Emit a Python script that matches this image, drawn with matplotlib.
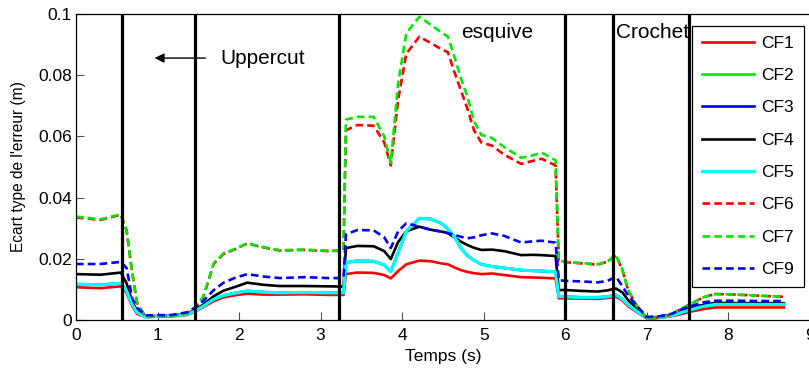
import matplotlib
matplotlib.use('Agg')
import matplotlib.pyplot as plt
from matplotlib.ticker import FuncFormatter

# time (s)
t = [0, 0.3, 0.55, 0.62, 0.69, 0.75, 0.85, 1.0, 1.16, 1.36,
     1.46, 1.56, 1.69, 1.81, 1.95, 2.1, 2.3, 2.5, 2.8, 3.1,
     3.28, 3.31, 3.45, 3.65, 3.78, 3.86, 3.95, 4.05, 4.21, 4.35,
     4.48, 4.56, 4.64, 4.72, 4.8, 4.88, 4.97, 5.1, 5.25, 5.46,
     5.6, 5.71, 5.88, 5.92, 6.0, 6.2, 6.4, 6.52, 6.62, 6.7,
     6.77, 6.88, 7.0, 7.15, 7.3, 7.43, 7.53, 7.7, 7.84, 8.1,
     8.4, 8.68]

cf1 = [0.0107, 0.0104, 0.011, 0.0088, 0.0045, 0.002, 0.001, 0.0011, 0.0012, 0.0016,
       0.0028, 0.0042, 0.0062, 0.0074, 0.0081, 0.0086, 0.0083, 0.0083, 0.0084, 0.0082,
       0.0082, 0.015, 0.0155, 0.0154, 0.0147, 0.0136, 0.016, 0.0182, 0.0194, 0.0192,
       0.0185, 0.0182, 0.0172, 0.0163, 0.0157, 0.0153, 0.015, 0.0152, 0.0147, 0.014,
       0.0139, 0.0138, 0.0136, 0.0071, 0.0071, 0.007, 0.0069, 0.0072, 0.0076, 0.0064,
       0.0045, 0.0025, 0.0005, 0.0007, 0.0012, 0.002, 0.0027, 0.0036, 0.0041, 0.0041,
       0.0041, 0.0041]

cf5 = [0.0117, 0.0115, 0.012, 0.0095, 0.005, 0.0025, 0.001, 0.0012, 0.0013, 0.0018,
       0.003, 0.0045, 0.0068, 0.008, 0.0088, 0.0095, 0.0091, 0.0089, 0.009, 0.0089,
       0.0089, 0.0188, 0.0193, 0.0192, 0.018, 0.0158, 0.022, 0.029, 0.0332, 0.033,
       0.0316, 0.0298, 0.0272, 0.0235, 0.021, 0.0195, 0.0182, 0.0175, 0.017, 0.0163,
       0.0161, 0.016, 0.0158, 0.0077, 0.0076, 0.0074, 0.0074, 0.0076, 0.0082, 0.0068,
       0.005, 0.0028, 0.0006, 0.0008, 0.0014, 0.0025, 0.0033, 0.0045, 0.0051, 0.0051,
       0.0051, 0.0051]

# CF2 and CF3 lie under the cyan CF5 curve
cf2 = cf5
cf3 = cf5

cf4 = [0.015, 0.0148, 0.0155, 0.012, 0.006, 0.003, 0.0012, 0.0013, 0.0014, 0.002,
       0.0034, 0.005, 0.0078, 0.0096, 0.0108, 0.0122, 0.0115, 0.0111, 0.0111, 0.011,
       0.0109, 0.0235, 0.0242, 0.0241, 0.0225, 0.0199, 0.0255, 0.029, 0.0305, 0.0295,
       0.0289, 0.0284, 0.027, 0.0256, 0.0245, 0.0236, 0.0229, 0.023, 0.0225, 0.0212,
       0.0213, 0.0212, 0.0209, 0.0098, 0.0098, 0.0095, 0.0093, 0.0097, 0.0103, 0.009,
       0.0065, 0.0035, 0.0008, 0.001, 0.0018, 0.003, 0.004, 0.005, 0.0056, 0.0055,
       0.0055, 0.0055]

cf6 = [0.0335, 0.0327, 0.0344, 0.0292, 0.0152, 0.0055, 0.0011, 0.0012, 0.0013, 0.0022,
       0.0040, 0.0074, 0.0184, 0.0216, 0.0231, 0.025, 0.0237, 0.0227, 0.0229, 0.0225,
       0.0227, 0.062, 0.0637, 0.0635, 0.058, 0.0505, 0.072, 0.087, 0.0926, 0.0905,
       0.0885, 0.0875, 0.081, 0.075, 0.069, 0.062, 0.058, 0.057, 0.054, 0.051,
       0.052, 0.0527, 0.0505, 0.0194, 0.0189, 0.0185, 0.0181, 0.0191, 0.0211, 0.0164,
       0.0097, 0.0045, 0.0005, 0.0008, 0.0018, 0.0038, 0.0052, 0.0075, 0.0085, 0.0083,
       0.0079, 0.0076]

cf7 = [0.0338, 0.0329, 0.0346, 0.0294, 0.0153, 0.0055, 0.0011, 0.0012, 0.0013, 0.0022,
       0.0043, 0.0076, 0.0186, 0.0218, 0.0232, 0.0251, 0.0238, 0.0228, 0.023, 0.0226,
       0.0228, 0.0655, 0.0664, 0.0664, 0.060, 0.0513, 0.0774, 0.0937, 0.0991, 0.0965,
       0.094, 0.0926, 0.086, 0.079, 0.073, 0.065, 0.0605, 0.0595, 0.0565, 0.053,
       0.0538, 0.0547, 0.0522, 0.0195, 0.019, 0.0186, 0.0182, 0.0192, 0.0212, 0.0165,
       0.0098, 0.0045, 0.0005, 0.0008, 0.0018, 0.0038, 0.0052, 0.0075, 0.0085, 0.0083,
       0.0079, 0.0076]

cf9 = [0.0183, 0.0183, 0.019, 0.017, 0.007, 0.004, 0.0015, 0.0016, 0.0016, 0.0025,
       0.004, 0.0062, 0.0098, 0.0122, 0.0138, 0.015, 0.0142, 0.0137, 0.014, 0.0137,
       0.0137, 0.028, 0.0294, 0.0293, 0.027, 0.0235, 0.029, 0.0316, 0.0305, 0.0295,
       0.0289, 0.0284, 0.0278, 0.0272, 0.0267, 0.027, 0.0277, 0.0283, 0.0275, 0.0253,
       0.0257, 0.0259, 0.0253, 0.013, 0.0128, 0.0126, 0.0123, 0.0128, 0.0142, 0.011,
       0.008, 0.0045, 0.001, 0.0012, 0.002, 0.0035, 0.0045, 0.0058, 0.0063, 0.0063,
       0.0062, 0.0062]

# phase boundaries (s)
events = [0.56, 1.46, 3.23, 5.99, 6.59, 7.52]

plt.rcParams['font.family'] = 'Liberation Sans'
plt.rcParams['lines.scale_dashes'] = False

fig = plt.figure(figsize=(8.09, 3.69), dpi=100)
ax = fig.add_axes([76 / 809, 1 - 320 / 369, 734 / 809, 306 / 369])

lw = 1.9
dash = (0, (5.5, 3.0))
ax.plot(t, cf1, color='#ff0000', lw=lw, label='CF1')
ax.plot(t, cf2, color='#00e600', lw=lw, label='CF2')
ax.plot(t, cf3, color='#0000ff', lw=lw, label='CF3')
ax.plot(t, cf4, color='black', lw=lw, label='CF4')
ax.plot(t, cf5, color='#00ffff', lw=2.3, label='CF5')
ax.plot(t, cf6, color='#ff0000', lw=lw, ls=dash, label='CF6')
ax.plot(t, cf7, color='#00e600', lw=lw, ls=dash, label='CF7')
ax.plot(t, cf9, color='#0000ff', lw=lw, ls=dash, label='CF9')

ax.text(1.77, 0.0856, 'Uppercut', fontsize=15, va='center')
ax.text(4.72, 0.0938, 'esquive', fontsize=15, va='center')
ax.text(6.62, 0.0938, 'Crochet', fontsize=15, va='center')

for e in events:
    ax.axvline(e, color='black', lw=2.3)

ax.annotate('', xy=(0.93, 0.0856), xytext=(1.62, 0.0856),
            arrowprops=dict(arrowstyle='-|>', color='black', lw=1, mutation_scale=14))

ax.set_xlim(0, 9)
ax.set_ylim(0, 0.1)
ax.set_xticks(range(10))
ax.set_yticks([0, 0.02, 0.04, 0.06, 0.08, 0.1])
ax.yaxis.set_major_formatter(FuncFormatter(lambda v, p: '0' if v == 0 else ('%g' % v)))
ax.tick_params(direction='in', length=6, width=0.8, color='#555555', labelsize=12.5)
ax.tick_params(axis='x', pad=6)
ax.tick_params(axis='y', pad=3)
ax.spines['right'].set_visible(False)
for s in ['left', 'top', 'bottom']:
    ax.spines[s].set_linewidth(0.9)

ax.set_xlabel('Temps (s)', fontsize=12.5, labelpad=4)
ax.set_ylabel("Ecart type de l'erreur (m)", fontsize=11.2, labelpad=9)

leg = ax.legend(loc='upper left', bbox_to_anchor=((692 - 76) / 734, (320 - 26) / 306),
                fontsize=12.5, frameon=True, fancybox=False, framealpha=1,
                edgecolor='black', handlelength=3.0, handletextpad=0.45,
                labelspacing=0.99, borderpad=0.55, borderaxespad=0)
leg.get_frame().set_linewidth(0.9)
leg.set_zorder(5)

fig.savefig('out.png', dpi=100)
